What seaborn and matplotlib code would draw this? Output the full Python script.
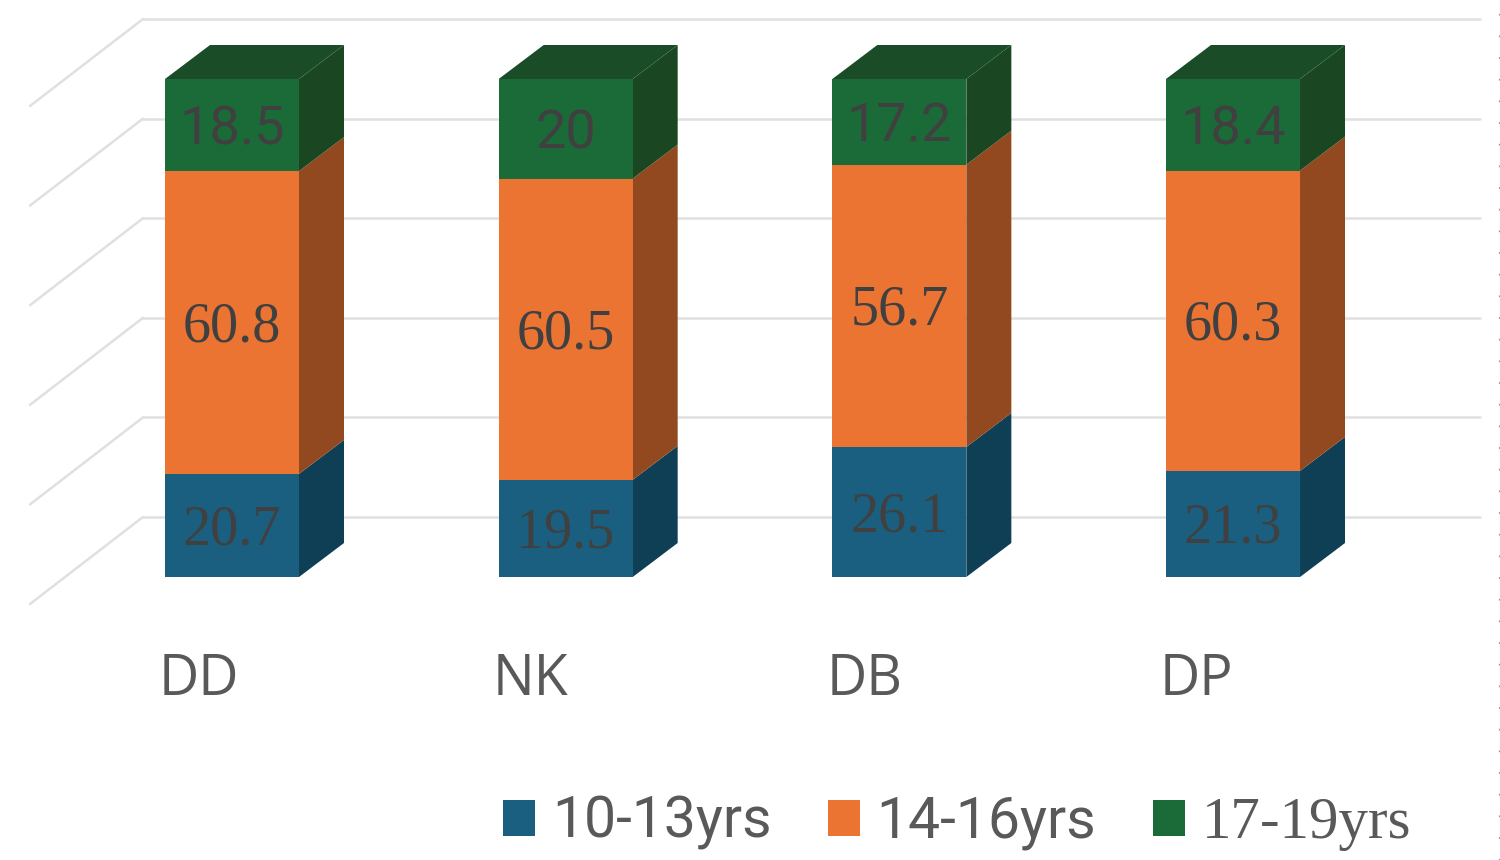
import numpy as np
import pandas as pd
import matplotlib.pyplot as plt
from matplotlib.lines import Line2D
from matplotlib.transforms import ScaledTranslation
import seaborn as sns

sites = ["DD", "NK", "DB", "DP"]
series_names = ["10-13yrs", "14-16yrs", "17-19yrs"]
age_10_13 = [20.7, 19.5, 26.1, 21.3]
age_14_16 = [60.8, 60.5, 56.7, 60.3]
age_17_19 = [18.5, 20, 17.2, 18.4]
grid_values = [0, 20, 40, 60, 80, 100]

front_colors = ["#1A5F80", "#EB7433", "#1A6B37"]
side_colors = ["#0F3F55", "#93491F", "#1A4721"]
top_color = "#1A4D27"
text_color = "#404040"
label_color = "#595959"
grid_color = "#E0E0E0"
# the green labels are sans in the original, the other two are serif
label_fonts = [("Liberation Serif", 40.5), ("Liberation Serif", 40.5), ("Roboto", 39)]

sns.set_theme(style="white")
plt.rcParams["font.family"] = ["Open Sans", "DejaVu Sans"]

# pixel layout of the fake 3D box
PX_PER_CAT = 333.67
PX_PER_VAL = 4.98
bar_width = 134 / PX_PER_CAT
depth_x = 45 / PX_PER_CAT
depth_y = 34 / PX_PER_VAL
wall_y = 60 / PX_PER_VAL
wall_left = -89 / PX_PER_CAT
wall_right = 1248 / PX_PER_CAT
floor_left = -202 / PX_PER_CAT
floor_drop = 87 / PX_PER_VAL
label_drop = 5 / PX_PER_VAL

fig = plt.figure(figsize=(15, 8.6), dpi=100)
ax = fig.add_axes([0, 1 - 577 / 860, 1, 559 / 860])

values = np.array([age_10_13, age_14_16, age_17_19])
tops = values.cumsum(axis=0)
bottoms = tops - values

# tallest first so each shorter stack hides the part below it
for i in [2, 1, 0]:
    df = pd.DataFrame({"site": sites, "top": tops[i]})
    sns.barplot(data=df, x="site", y="top", color=front_colors[i], saturation=1,
                width=bar_width, errorbar=None, label=series_names[i], ax=ax, zorder=3,
                linewidth=0, edgecolor="none")

# back wall and left wall lines
for g in grid_values:
    y = g + wall_y
    ax.plot([wall_left, wall_right], [y, y], color=grid_color, lw=1.8, zorder=1, clip_on=False)
    ax.plot([floor_left, wall_left], [y - floor_drop, y], color=grid_color, lw=1.8, zorder=1, clip_on=False)

# side and top faces of the stacks
for k in range(len(sites)):
    right = k + bar_width / 2
    left = k - bar_width / 2
    for i in range(3):
        ax.fill([right, right + depth_x, right + depth_x, right],
                [bottoms[i, k], bottoms[i, k] + depth_y, tops[i, k] + depth_y, tops[i, k]],
                color=side_colors[i], lw=0, zorder=2, clip_on=False)
        font, size = label_fonts[i]
        ax.text(k, bottoms[i, k] + values[i, k] / 2 - label_drop, f"{values[i, k]:g}", ha="center", va="center",
                color=text_color, family=font, fontsize=size, zorder=5)
    ax.fill([left, right, right + depth_x, left + depth_x],
            [tops[2, k], tops[2, k], tops[2, k] + depth_y, tops[2, k] + depth_y],
            color=top_color, lw=0, zorder=2, clip_on=False)

ax.set_xlim(-232 / PX_PER_CAT, 1268 / PX_PER_CAT)
ax.set_ylim(0, 559 / PX_PER_VAL)
ax.set_xlabel("")
ax.set_ylabel("")
ax.set_yticks([])
ax.tick_params(axis="x", length=0, pad=54, labelsize=40, labelcolor=label_color)
sns.despine(ax=ax, left=True, bottom=True)

shift = ScaledTranslation(-73 / 100, 0, fig.dpi_scale_trans)
for lab in ax.get_xticklabels():
    lab.set_ha("left")
    lab.set_transform(lab.get_transform() + shift)

handles, labels = ax.get_legend_handles_labels()
order = [labels.index(s) for s in series_names]
leg = ax.legend([handles[i] for i in order], series_names, ncol=3, frameon=False,
                loc="center", bbox_to_anchor=(957 / 1500, 1 - 823 / 860), bbox_transform=fig.transFigure,
                prop={"family": "Roboto", "size": 41}, labelcolor=label_color,
                handlelength=0.56, handleheight=0.58, handletextpad=0.3,
                columnspacing=0.99, borderpad=0, borderaxespad=0)
leg.get_texts()[2].set_fontfamily("Liberation Serif")
leg.get_texts()[2].set_fontsize(42.5)

# dotted edge of the screenshot on the right
fig.add_artist(Line2D([1498.5 / 1500, 1498.5 / 1500], [0, 1], color="#B08080", lw=0.8,
                      linestyle=(0, (1.5, 18)), transform=fig.transFigure))

fig.savefig("out.png", dpi=100)
